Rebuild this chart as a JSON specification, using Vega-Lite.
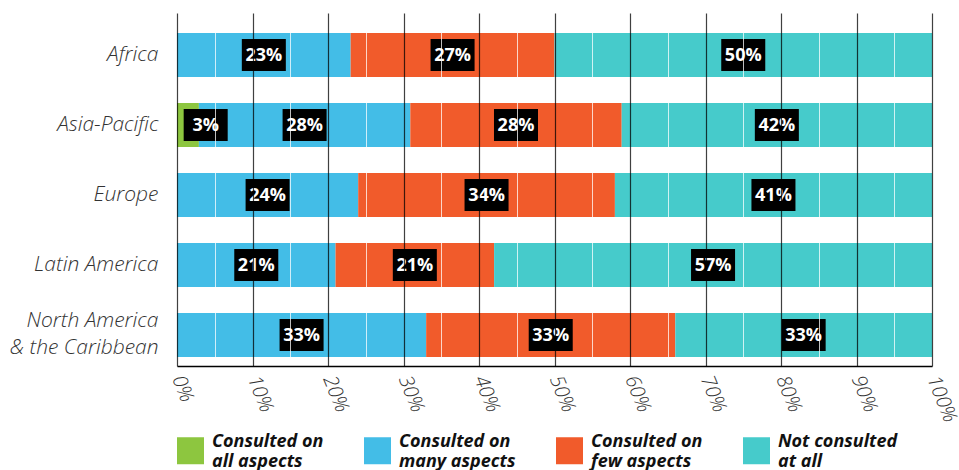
{
  "$schema": "https://vega.github.io/schema/vega-lite/v6.json",
  "width": 755,
  "height": 353,
  "autosize": {"type": "none"},
  "padding": {"left": 177, "top": 13, "right": 27, "bottom": 104},
  "background": "white",
  "config": {"view": {"stroke": null}},
  "data": {
    "values": [
      {"region": "Africa", "cat": "Consulted on many aspects", "k": 2, "value": 23, "pct": 23},
      {"region": "Africa", "cat": "Consulted on few aspects", "k": 3, "value": 27, "pct": 27},
      {"region": "Africa", "cat": "Not consulted at all", "k": 4, "value": 50, "pct": 50},
      {"region": "Asia-Pacific", "cat": "Consulted on all aspects", "k": 1, "value": 2.9, "pct": 3},
      {"region": "Asia-Pacific", "cat": "Consulted on many aspects", "k": 2, "value": 28, "pct": 28},
      {"region": "Asia-Pacific", "cat": "Consulted on few aspects", "k": 3, "value": 28, "pct": 28},
      {"region": "Asia-Pacific", "cat": "Not consulted at all", "k": 4, "value": 41.1, "pct": 42},
      {"region": "Europe", "cat": "Consulted on many aspects", "k": 2, "value": 24, "pct": 24},
      {"region": "Europe", "cat": "Consulted on few aspects", "k": 3, "value": 34, "pct": 34},
      {"region": "Europe", "cat": "Not consulted at all", "k": 4, "value": 42, "pct": 41},
      {"region": "Latin America", "cat": "Consulted on many aspects", "k": 2, "value": 21, "pct": 21},
      {"region": "Latin America", "cat": "Consulted on few aspects", "k": 3, "value": 21, "pct": 21},
      {"region": "Latin America", "cat": "Not consulted at all", "k": 4, "value": 58, "pct": 57},
      {"region": "North America & the Caribbean", "cat": "Consulted on many aspects", "k": 2, "value": 33, "pct": 33},
      {"region": "North America & the Caribbean", "cat": "Consulted on few aspects", "k": 3, "value": 33, "pct": 33},
      {"region": "North America & the Caribbean", "cat": "Not consulted at all", "k": 4, "value": 34, "pct": 33}
    ]
  },
  "encoding": {
    "y": {
      "field": "region",
      "type": "nominal",
      "sort": ["Africa", "Asia-Pacific", "Europe", "Latin America", "North America & the Caribbean"],
      "scale": {"paddingInner": 0.37, "paddingOuter": 0.2065, "align": 0.69},
      "axis": {
        "title": null,
        "domain": false,
        "ticks": false,
        "grid": false,
        "labelPadding": 19,
        "labelFont": "Open Sans",
        "labelFontStyle": "italic",
        "labelFontWeight": 300,
        "labelFontSize": 21,
        "labelColor": "#333333",
        "labelLineHeight": 27,
        "labelLimit": 300,
        "labelOffset": {"condition": {"test": "datum.value == 'North America & the Caribbean'", "value": -14}, "value": 0},
        "labelExpr": "datum.value == 'North America & the Caribbean' ? ['North America', '& the Caribbean'] : datum.value"
      }
    }
  },
  "layer": [
    {
      "mark": {"type": "bar", "clip": true},
      "encoding": {
        "x": {
          "field": "value",
          "type": "quantitative",
          "stack": "zero",
          "scale": {"domain": [0, 100], "nice": false},
          "axis": {
            "orient": "bottom",
            "title": null,
            "values": [5, 15, 25, 35, 45, 55, 65, 75, 85, 95],
            "grid": true,
            "gridColor": "white",
            "gridOpacity": 0.75,
            "gridWidth": 1,
            "labels": false,
            "ticks": false,
            "domain": false,
            "zindex": 1
          }
        },
        "color": {
          "field": "cat",
          "type": "nominal",
          "scale": {
            "domain": ["Consulted on all aspects", "Consulted on many aspects", "Consulted on few aspects", "Not consulted at all"],
            "range": ["#8DC63F", "#43BDE7", "#F15B2B", "#46CBCB"]
          },
          "legend": {
            "title": null,
            "orient": "none",
            "legendX": 0,
            "legendY": 424,
            "direction": "horizontal",
            "columns": 4,
            "columnPadding": 40,
            "symbolType": "square",
            "symbolSize": 729,
            "symbolStrokeWidth": 0,
            "symbolOpacity": 1,
            "labelOffset": 8,
            "labelFont": "Open Sans",
            "labelFontStyle": "italic",
            "labelFontWeight": "bold",
            "labelFontSize": 18,
            "labelBaseline": "bottom",
            "labelColor": "#111111",
            "labelLimit": 300,
            "labelExpr": "datum.label == 'Not consulted at all' ? ['Not consulted', 'at all'] : ['Consulted on', replace(datum.label, 'Consulted on ', '')]"
          }
        },
        "order": {"field": "k", "type": "quantitative"}
      }
    },
    {
      "transform": [
        {"stack": "value", "groupby": ["region"], "sort": [{"field": "k"}], "as": ["v0", "v1"]},
        {"calculate": "max((datum.v0 + datum.v1) / 2, 3.8)", "as": "mid"},
        {"calculate": "datum.mid - 2.915", "as": "b0"},
        {"calculate": "datum.mid + 2.915", "as": "b1"}
      ],
      "mark": {"type": "bar", "color": "black", "height": {"band": 0.727}},
      "encoding": {
        "x": {
          "field": "b0",
          "type": "quantitative",
          "scale": {"domain": [0, 100], "nice": false},
          "axis": {
            "orient": "bottom",
            "title": null,
            "values": [0, 10, 20, 30, 40, 50, 60, 70, 80, 90, 100],
            "labelExpr": "datum.value + '%'",
            "grid": true,
            "gridColor": "black",
            "gridOpacity": 0.75,
            "gridWidth": 1.2,
            "ticks": false,
            "domain": true,
            "domainColor": "black",
            "domainWidth": 1.5,
            "labelAngle": 68,
            "labelAlign": "left",
            "labelBaseline": "middle",
            "labelPadding": 10,
            "labelFont": "Open Sans",
            "labelFontStyle": "italic",
            "labelFontWeight": 300,
            "labelFontSize": 20,
            "labelColor": "#333333",
            "labelFlush": false,
            "labelOverlap": false,
            "zindex": 1
          }
        },
        "x2": {"field": "b1"}
      }
    },
    {
      "transform": [
        {"stack": "value", "groupby": ["region"], "sort": [{"field": "k"}], "as": ["v0", "v1"]},
        {"calculate": "max((datum.v0 + datum.v1) / 2, 3.8)", "as": "mid"},
        {"calculate": "datum.pct + '%'", "as": "lbl"}
      ],
      "mark": {"type": "text", "color": "white", "font": "Open Sans", "fontWeight": "bold", "fontSize": 18, "align": "center", "baseline": "middle", "dy": 1},
      "encoding": {
        "x": {"field": "mid", "type": "quantitative", "axis": null},
        "text": {"field": "lbl"}
      }
    }
  ],
  "resolve": {"axis": {"x": "independent"}}
}
